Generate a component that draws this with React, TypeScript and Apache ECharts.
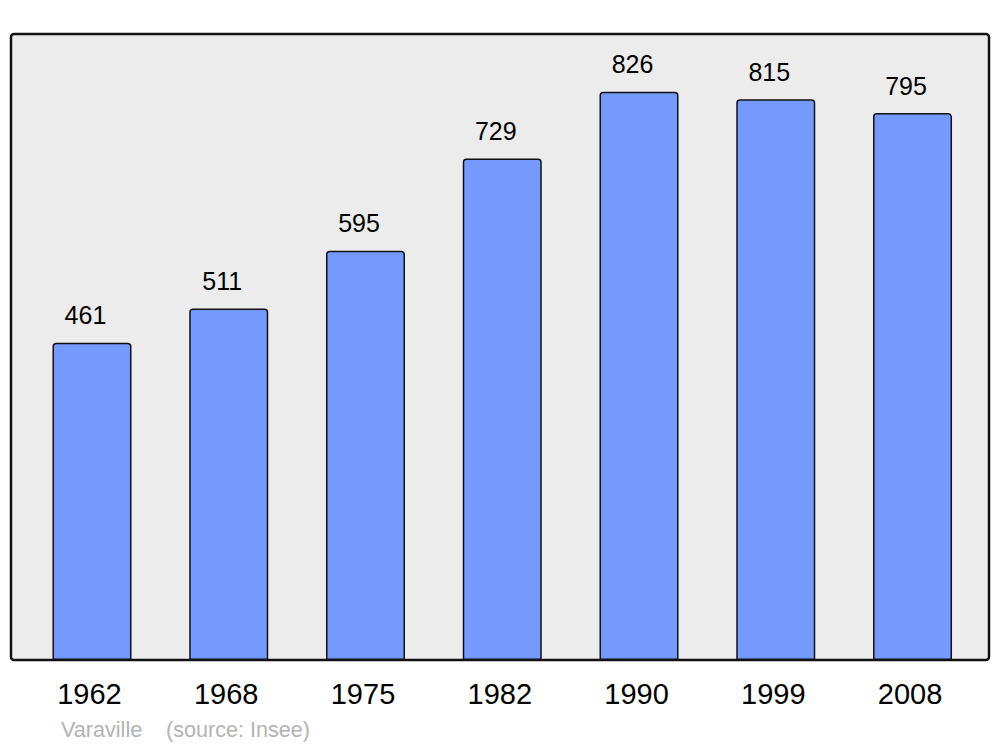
import React, { useEffect, useRef } from "react";
import * as echarts from "echarts";

const years = ["1962", "1968", "1975", "1982", "1990", "1999", "2008"];
const population = [461, 511, 595, 729, 826, 815, 795];
const townName = "Varaville";
const sourceText = "(source: Insee)";

const FONT = "Liberation Sans, Arial, sans-serif";

export default function App() {
  const ref = useRef<HTMLDivElement>(null);
  useEffect(() => {
    if (!ref.current) return;
    const chart = echarts.init(ref.current, null, { renderer: "svg" });
    chart.setOption({
      animation: false,
      backgroundColor: "#ffffff",
      textStyle: { fontFamily: FONT },
      grid: { left: 23.6, right: 19.1, top: 34, bottom: 87, containLabel: false },
      xAxis: {
        type: "category",
        data: years,
        axisLine: { show: false },
        axisTick: { show: false },
        axisLabel: { color: "#000", fontSize: 29, margin: 19, padding: [0, 5, 0, 0], fontFamily: FONT },
      },
      yAxis: { type: "value", min: 0, max: 910, show: false, splitLine: { show: false } },
      graphic: [
        {
          type: "rect",
          z: -10,
          shape: { x: 11, y: 34, width: 978, height: 626, r: 3 },
          style: { fill: "#ececec", stroke: "#111", lineWidth: 2.5 },
        },
        {
          type: "text",
          x: 61,
          y: 740,
          style: { text: townName, fill: "#b3b3b3", fontSize: 21.6, fontFamily: FONT, textVerticalAlign: "bottom" },
        },
        {
          type: "text",
          x: 166,
          y: 740,
          style: { text: sourceText, fill: "#b3b3b3", fontSize: 21.6, fontFamily: FONT, textVerticalAlign: "bottom" },
        },
      ],
      series: [
        {
          type: "bar",
          data: population,
          barWidth: 79,
          itemStyle: { color: "#7499ff", borderColor: "#111", borderWidth: 1.5, borderRadius: [3, 3, 0, 0] },
          label: {
            show: true,
            position: "top",
            distance: 15,
            offset: [-6.5, 0],
            color: "#000",
            fontSize: 25,
            fontFamily: FONT,
          },
        },
      ],
    });
    return () => chart.dispose();
  }, []);
  return <div ref={ref} style={{ position: "absolute", left: 0, top: 0, width: 1000, height: 747 }} />;
}
